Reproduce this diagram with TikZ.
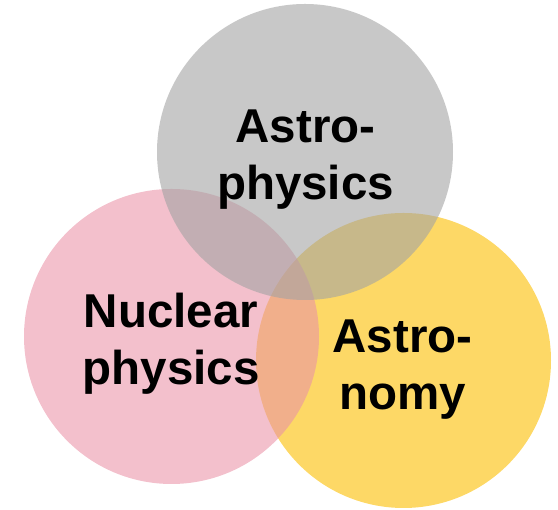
\documentclass[tikz,border=0pt]{standalone}
\usepackage{fontspec}
\setmainfont{Liberation Sans}
\usetikzlibrary{positioning}
\definecolor{astrogray}{RGB}{163,163,163}
\definecolor{nuclearpink}{RGB}{234,146,167}
\definecolor{astroyellow}{RGB}{253,216,102}

\begin{document}
\begin{tikzpicture}[x=1pt,y=1pt,
  fieldtext/.style={font=\fontsize{47.5}{57}\selectfont\bfseries,align=center,inner sep=0pt}]
  \useasboundingbox (0,0) rectangle (558,510);
  % the three fields
  \fill[astroyellow] (403.5,149.5) circle (147.5pt);
  \fill[nuclearpink,fill opacity=0.58] (171.5,173.5) circle (147.5pt);
  \fill[astrogray,fill opacity=0.6] (305,358) circle (148pt);
  \node[fieldtext] (astrophysics) at (305.5,350.4) {Astro-\\physics};
  \node[fieldtext] (nuclear) at (171,166.4) {Nuclear\\physics};
  \node[fieldtext] (astronomy) at (402.5,140.4) {Astro-\\nomy};
\end{tikzpicture}
\end{document}
